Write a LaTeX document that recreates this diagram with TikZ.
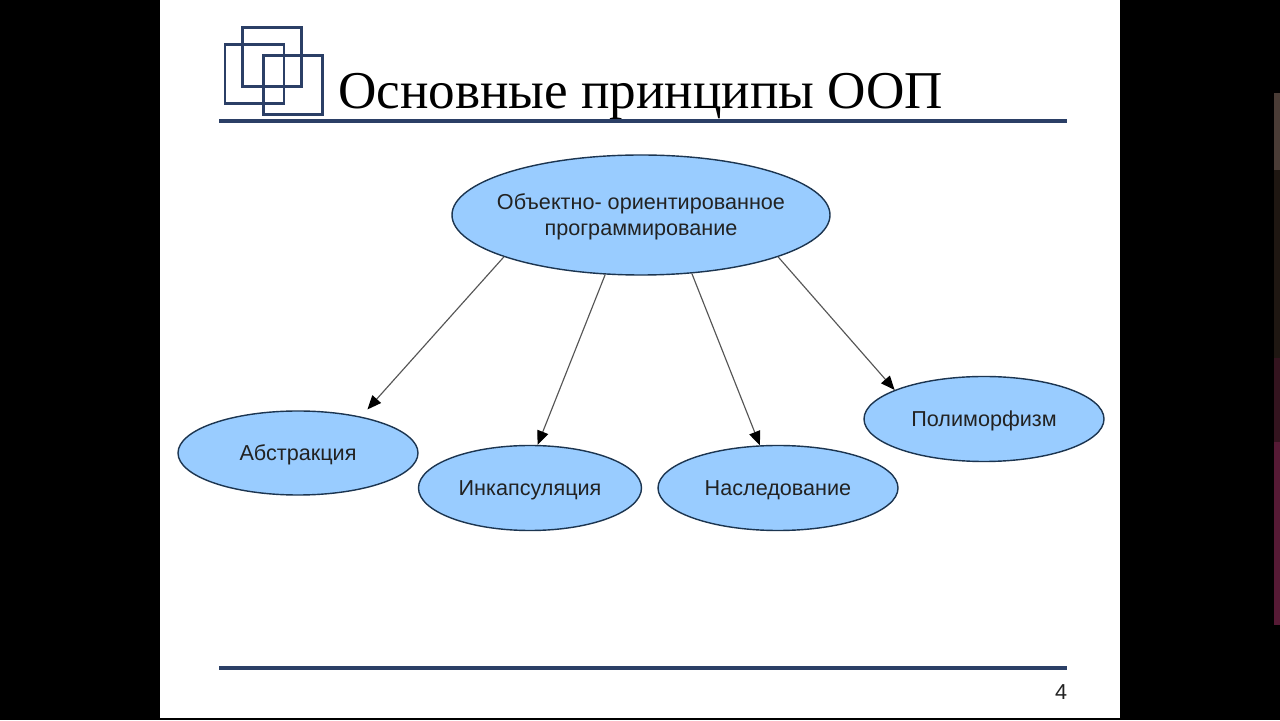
\documentclass[tikz,border=0pt]{standalone}
\usepackage{fontspec}
\setmainfont{Liberation Sans}
\newfontfamily\titlefont{Liberation Serif}
\usetikzlibrary{arrows.meta,shapes.geometric}

\definecolor{ovalfill}{HTML}{99CCFF}
\definecolor{ovalline}{HTML}{1C3550}
\definecolor{rulecol}{HTML}{2B3F66}
\definecolor{arrowcol}{HTML}{555555}
\definecolor{labelcol}{HTML}{222222}
\definecolor{stripa}{HTML}{4A3C36}
\definecolor{stripb}{HTML}{1F1712}
\definecolor{stripc}{HTML}{34141F}
\definecolor{stripd}{HTML}{561A35}

\tikzset{
	oval/.style={shape=ellipse,draw=ovalline,fill=ovalfill,line width=0.8pt,inner sep=0pt,
		text=labelcol,text depth=0pt,font=\fontsize{12.3}{14.8}\selectfont,align=center},
	logosq/.style={shape=rectangle,draw=rulecol,line width=1.7pt,inner sep=0pt,minimum width=1.18cm,minimum height=1.18cm},
	rulerline/.style={draw=rulecol,line width=1.9pt},
	link/.style={draw=arrowcol,line width=0.65pt,-{Triangle[length=0.28cm,width=0.23cm,color=black]}}
}

\begin{document}
\begin{tikzpicture}
	\useasboundingbox (0,0) rectangle (25.6,14.4);
	\fill[black] (0,0) rectangle (25.6,14.4);
	\fill[white] (3.2,0.04) rectangle (22.4,14.4);
	
	% strip at the right edge
	\fill[stripa] (25.48,11.0) rectangle (25.6,12.54);
	\fill[stripb] (25.48,7.24) rectangle (25.6,11.0);
	\fill[stripc] (25.48,5.56) rectangle (25.6,7.24);
	\fill[stripd] (25.48,1.9) rectangle (25.6,5.56);
	
	\node[logosq] (sqa) at (5.44, 13.26) {};
	\node[logosq] (sqb) at (5.09, 12.92) {};
	\node[logosq] (sqc) at (5.86, 12.70) {};
	
	\node[anchor=base west,inner sep=0pt,text=black,font=\titlefont\fontsize{30.25}{36}\selectfont] (title) at (6.76, 12.22) {Основные принципы ООП};
	
	\coordinate (topl) at (4.38, 11.98);
	\coordinate (topr) at (21.34, 11.98);
	\coordinate (botl) at (4.38, 1.04);
	\coordinate (botr) at (21.34, 1.04);
	\draw[rulerline] (topl) -- (topr);
	\draw[rulerline] (botl) -- (botr);
	
	\node[oval,inner xsep=-0.3cm,minimum width=7.56cm,minimum height=2.4cm] (oop) at (12.82, 10.10) {Объектно- ориентированное\\программирование};
	
	\node[oval,minimum width=4.8cm,minimum height=1.68cm] (abstr) at (5.96, 5.34) {Абстракция};
	\node[oval,minimum width=4.46cm,minimum height=1.70cm] (incaps) at (10.60, 4.64) {Инкапсуляция};
	\node[oval,minimum width=4.8cm,minimum height=1.70cm] (nasl) at (15.56, 4.64) {Наследование};
	\node[oval,minimum width=4.8cm,minimum height=1.70cm] (polim) at (19.68, 6.02) {Полиморфизм};
	
	\node[inner sep=0pt,text=labelcol,font=\fontsize{12.3}{14.8}\selectfont] (pagenum) at (21.22, 0.56) {4};
	
	\path[link,shorten >=0.19cm] (oop.197) -- (abstr.30);
	\path[link] (oop.239) -- (incaps.80);
	\path[link] (oop.311) -- (nasl.113);
	\path[link] (oop.343) -- (polim.162);
\end{tikzpicture}
\end{document}
